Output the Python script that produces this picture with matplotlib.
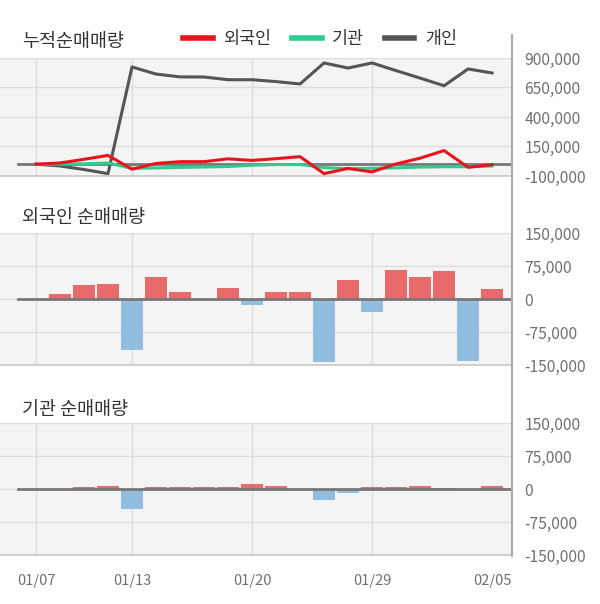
import numpy as np
import matplotlib
matplotlib.use("Agg")
import matplotlib.pyplot as plt
from matplotlib.lines import Line2D

plt.rcParams['font.family'] = ['Noto Sans CJK KR', 'DejaVu Sans']

# trading days
dates = ["01/07", "01/08", "01/09", "01/10", "01/13", "01/14", "01/15", "01/16", "01/17",
         "01/20", "01/21", "01/22", "01/23", "01/28", "01/29", "01/30", "01/31",
         "02/03", "02/04", "02/05"]
tick_dates = ["01/07", "01/13", "01/20", "01/29", "02/05"]
grid_dates = ["01/07", "01/13", "01/20", "01/29"]

# daily net buying
foreign = [0, 10500, 31000, 33000, -117000, 49000, 15000, 0, 24000, -13500,
           15000, 17000, -144000, 44000, -29000, 67000, 49000, 64500, -142000, 22000]
institution = [0, 0, 3500, 6500, -45500, 4000, 4000, 4000, 4000, 10500,
               6000, 0, -25500, -9500, 3500, 3500, 6500, 3000, 0, 6500]

# cumulative individual
individual_cum = [0, -15000, -45000, -80000, 824000, 764000, 740000, 739000, 716000, 716000,
                  700000, 680000, 858000, 815000, 858000, 793000, 730000, 665000, 807000, 773000]

foreign_cum = np.cumsum(foreign)
institution_cum = np.cumsum(institution)

x = np.arange(len(dates))

W, H = 600, 604
fig = plt.figure(figsize=(W / 100, H / 100), dpi=100)

BG = "#f4f4f4"
GRID = "#dddddd"
TXT = "#707070"
RED_BAR = "#e86a6a"
BLUE_BAR = "#90bde0"


def make_ax(top, bottom):
    ax = fig.add_axes([0, 1 - bottom / H, 512 / W, (bottom - top) / H])
    ax.set_facecolor(BG)
    ax.set_xlim(-1.5, 19.83)
    for s in ["top", "left", "right"]:
        ax.spines[s].set_visible(False)
    ax.spines["bottom"].set_color("#c8c8c8")
    ax.spines["bottom"].set_linewidth(1.2)
    ax.yaxis.tick_right()
    ax.tick_params(axis="y", length=0, pad=9, labelsize=11.3, labelcolor=TXT)
    ax.tick_params(axis="x", length=0)
    ax.grid(axis="y", color=GRID, linewidth=1)
    for d in grid_dates:
        ax.axvline(dates.index(d), color=GRID, linewidth=1, zorder=0.5)
    ax.set_axisbelow(True)
    ax.set_xticks([dates.index(d) for d in tick_dates])
    ax.set_xticklabels([])
    return ax


def fmt(v):
    return f"{int(v):,}"


# panel 1: cumulative
ax1 = make_ax(58, 176)
ax1.set_ylim(-100000, 900000)
yt1 = [-100000, 150000, 400000, 650000, 900000]
ax1.set_yticks(yt1)
ax1.set_yticklabels([fmt(v) for v in yt1])
ax1.axhline(0, xmin=18 / 512, color="#777777", linewidth=2, zorder=2)
ax1.plot(x, individual_cum, color="#555555", linewidth=2.2, zorder=3)
ax1.plot(x, institution_cum, color="#2ecc8e", linewidth=2.2, zorder=4)
ax1.plot(x, foreign_cum, color="#e8141c", linewidth=2.2, zorder=5)


def bar_panel(top, bottom, vals):
    ax = make_ax(top, bottom)
    ax.set_ylim(-150000, 150000)
    yt = [-150000, -75000, 0, 75000, 150000]
    ax.set_yticks(yt)
    ax.set_yticklabels([fmt(v) for v in yt])
    colors = [RED_BAR if v >= 0 else BLUE_BAR for v in vals]
    ax.bar(x, vals, width=0.95, color=colors, zorder=2)
    ax.axhline(0, xmin=18 / 512, color="#777777", linewidth=2, zorder=3)
    return ax


ax2 = bar_panel(233, 365, foreign)
ax3 = bar_panel(423, 555, institution)
ax3.set_xticklabels(tick_dates)
ax3.tick_params(axis="x", pad=14, labelsize=10.5, labelcolor=TXT)

# titles
fig.text(22 / W, 1 - 42 / H, "누적순매매량", fontsize=13.3, color="#333333", va="center", ha="left")
fig.text(22 / W, 1 - 218 / H, "외국인 순매매량", fontsize=13.3, color="#333333", va="center", ha="left")
fig.text(22 / W, 1 - 410 / H, "기관 순매매량", fontsize=13.3, color="#333333", va="center", ha="left")

# right vertical axis line
fig.add_artist(Line2D([512 / W, 512 / W], [1 - 35 / H, 1 - 556 / H], color="#aaaaaa", linewidth=1.5))

# legend
handles = [Line2D([], [], color="#e8141c", linewidth=4),
           Line2D([], [], color="#2ecc8e", linewidth=4),
           Line2D([], [], color="#555555", linewidth=4)]
fig.legend(handles, ["외국인", "기관", "개인"], loc="center", bbox_to_anchor=(320 / W, 1 - 39 / H),
           ncol=3, frameon=False, fontsize=12.5, handlelength=1.7, handletextpad=0.6,
           columnspacing=1.2, labelcolor="#333333")

fig.savefig("out.png", dpi=100)
